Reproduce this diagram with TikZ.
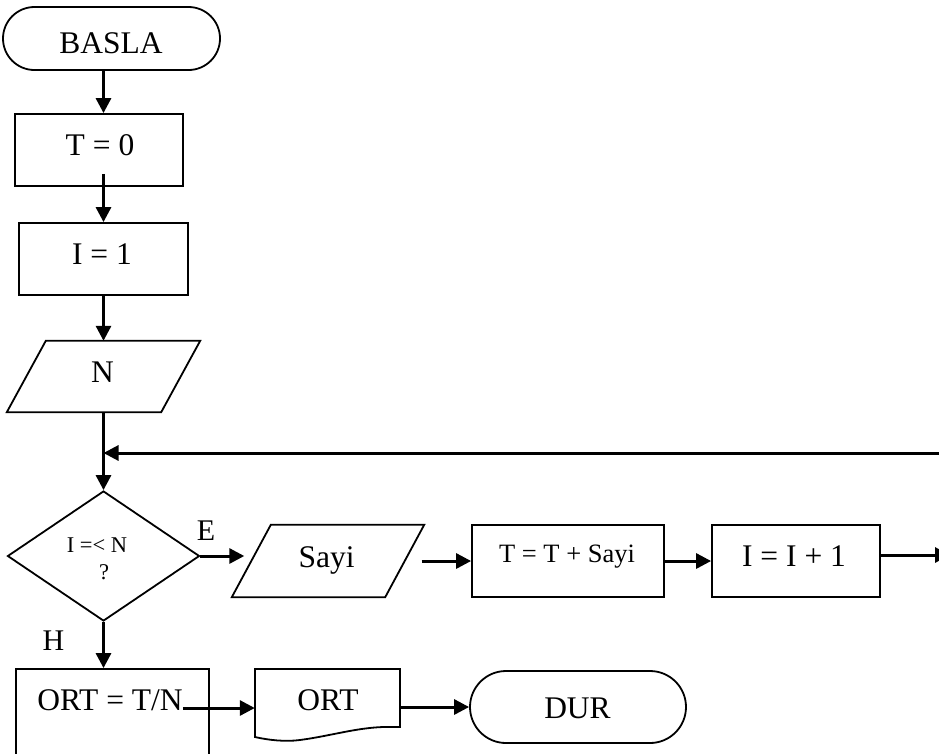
\documentclass[tikz,border=0pt]{standalone}
\usepackage{fontspec}
\setmainfont{Liberation Serif}
\usetikzlibrary{arrows.meta,shapes.geometric,shapes.misc,calc}
\begin{document}
\begin{tikzpicture}[x=1pt,y=-1pt,
  outline/.style={draw, line width=1.8pt, inner sep=0pt},
  plainbox/.style={outline, rectangle, minimum width=#1},
  arr/.style={line width=3pt, -{Triangle[length=15pt,width=15pt]}},
  txt/.style={inner sep=0pt, anchor=base, font=\fontsize{31.5}{36}\selectfont},
  smalltxt/.style={inner sep=0pt, anchor=base, font=\fontsize{26.5}{30}\selectfont},
  tinytxt/.style={inner sep=0pt, anchor=base, font=\fontsize{22.5}{26}\selectfont},
  lbl/.style={inner sep=0pt, anchor=base, font=\fontsize{30}{34}\selectfont}]
\useasboundingbox (0,0) rectangle (939,753);

% vertical spine of the main flow
\coordinate (sp) at (103.5,0);

% ---- shapes ----
\node[outline, rounded rectangle, minimum width=217pt, minimum height=63pt] (basla) at (111.5,38.5) {};
\node[plainbox=168pt, minimum height=72pt] (t0) at (99,150) {};
\node[plainbox=169pt, minimum height=72pt] (i1) at (103.5,259) {};

\node[inner sep=0pt, minimum width=154pt, minimum height=71pt] (n) at (103.5,376.5) {};
\draw[line width=1.8pt] ([xshift=19.5pt]n.north west) -- ([xshift=19.5pt]n.north east)
  -- ([xshift=-19.5pt]n.south east) -- ([xshift=-19.5pt]n.south west) -- cycle;

\node[outline, diamond, minimum width=192pt, minimum height=130pt] (dec) at (103.5,556) {};

\node[inner sep=0pt, minimum width=153pt, minimum height=72pt] (sayi) at (328,561) {};
\draw[line width=1.8pt] ([xshift=19.5pt]sayi.north west) -- ([xshift=19.5pt]sayi.north east)
  -- ([xshift=-19.5pt]sayi.south east) -- ([xshift=-19.5pt]sayi.south west) -- cycle;

\node[plainbox=192pt, minimum height=72pt] (tsum) at (568,561) {};
\node[plainbox=168pt, minimum height=72pt] (inc) at (796,561) {};

\node[plainbox=193pt, minimum height=131pt] (ort) at (112.5,734.5) {};

% document symbol for the output
\node[inner sep=0pt, minimum width=145pt, minimum height=58pt] (doc) at (327.5,698) {};
\draw[line width=1.8pt] (255,669) -- (400,669) -- (400,727) -- (383,727)
  .. controls (355,728) and (330,736) .. (300,740)
  .. controls (285,742) and (268,740) .. (255,737) -- cycle;

\node[outline, rounded rectangle, minimum width=216pt, minimum height=72pt] (dur) at (578,707) {};

% ---- texts ----
\node[txt] at (111,53) {BASLA};
\node[txt] at (100,155) {T = 0};
\node[txt] at (102,264) {I = 1};
\node[txt] at (102.5,382) {N};
\node[tinytxt] at (97,552) {I =< N};
\node[tinytxt] at (104,579) {?};
\node[lbl] at (206,540) {E};
\node[lbl] at (53.5,650) {H};
\node[txt] at (326.5,567) {Sayi};
\node[smalltxt] at (567,562) {T = T + Sayi};
\node[txt] at (794,566) {I = I + 1};
\node[txt] (ortx) at (110,710) {ORT = T/N};
\node[txt] at (328,710) {ORT};
\node[txt] at (577.5,718) {DUR};

% ---- connectors ----
\draw[arr] (basla.south -| sp) -- (t0.north -| sp);
\draw[arr] ($(t0.south -| sp)+(0,-13)$) -- (i1.north -| sp);
\draw[arr] (i1.south -| sp) -- (n.north -| sp);
\draw[arr] (n.south -| sp) -- (dec.north);
\coordinate (back) at (945,453);
\draw[arr] (back) -- (back -| sp);
\draw[arr] (dec.east) -- ($(sayi.west |- dec.east)+(-7,0)$);
\draw[arr] ($(sayi.east)+(17,0)$) -- (tsum.west);
\draw[arr] (tsum.east) -- (inc.west);
\coordinate (out) at (950,555);
\draw[arr] (inc.east |- out) -- (out);
\draw[arr] (dec.south) -- (dec.south |- ort.north);
\coordinate (o1) at ($(ortx.base east)+(0,-2)$);
\draw[arr] (o1) -- (o1 -| doc.west);
\draw[arr] (doc.east |- dur.west) -- (dur.west);
\end{tikzpicture}
\end{document}
